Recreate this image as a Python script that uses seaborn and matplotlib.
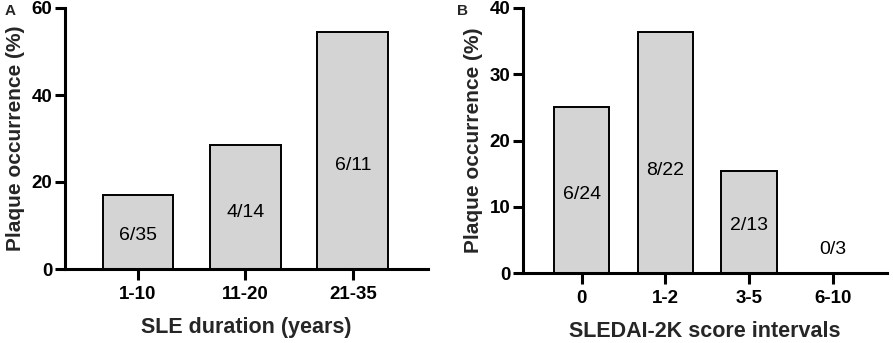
import matplotlib
matplotlib.use("Agg")
import matplotlib.pyplot as plt
import seaborn as sns
import pandas as pd

# Data
dur_cats = ["1-10", "11-20", "21-35"]
dur_vals = [17.1, 28.6, 54.5]
dur_labels = ["6/35", "4/14", "6/11"]

sled_cats = ["0", "1-2", "3-5", "6-10"]
sled_vals = [25.0, 36.4, 15.4, 0.0]
sled_labels = ["6/24", "8/22", "2/13", "0/3"]

# Layout constants (annotation heights in data units)
dur_label_y = [7.8, 12.9, 23.9]
sled_label_y = [11.8, 15.5, 7.1, 3.6]

sns.set_theme(style="ticks")
plt.rcParams["font.family"] = ["Liberation Sans", "DejaVu Sans"]

fig = plt.figure(figsize=(8.93, 3.43), dpi=100)
axA = fig.add_axes([65/893, 1-269/343, (428-65)/893, (269-8)/343])
axB = fig.add_axes([523/893, 1-273/343, (887-523)/893, (273-8)/343])

def draw(ax, cats, vals, labels, label_y, ymax, yticks, xlim, xlabel):
    df = pd.DataFrame({"cat": cats, "val": vals})
    sns.barplot(data=df, x="cat", y="val", color="#d4d4d4", saturation=1,
                edgecolor="black", linewidth=1.4, width=0.66, ax=ax)
    for i, (t, y) in enumerate(zip(labels, label_y)):
        ax.text(i, y, t, ha="center", va="center", fontsize=14, color="black")
    ax.set_ylim(0, ymax)
    ax.set_yticks(yticks)
    ax.set_xlim(*xlim)
    for s in ["top", "right"]:
        ax.spines[s].set_visible(False)
    for s in ["left", "bottom"]:
        ax.spines[s].set_linewidth(2.2)
        ax.spines[s].set_color("black")
    ax.tick_params(axis="y", width=2.2, length=7, pad=2)
    ax.tick_params(axis="x", width=2.2, length=8, pad=4)
    ax.tick_params(axis="both", labelsize=13.5, colors="black")
    for lab in ax.get_xticklabels() + ax.get_yticklabels():
        lab.set_fontweight("bold")
    ax.set_xlabel(xlabel, fontsize=15.5, fontweight="bold", labelpad=10)
    ax.set_ylabel("Plaque occurrence (%)", fontsize=15, fontweight="bold", labelpad=5)

draw(axA, dur_cats, dur_vals, dur_labels, dur_label_y, 60, [0, 20, 40, 60],
     (-0.68, 2.7), "SLE duration (years)")
draw(axB, sled_cats, sled_vals, sled_labels, sled_label_y, 40, [0, 10, 20, 30, 40],
     (-0.70, 3.65), "SLEDAI-2K score intervals")

fig.text(5/893, 1-11/343, "A", fontsize=11, fontweight="bold", va="center", ha="left")
fig.text(457/893, 1-11/343, "B", fontsize=11, fontweight="bold", va="center", ha="left")

fig.savefig("out.png", dpi=100)
